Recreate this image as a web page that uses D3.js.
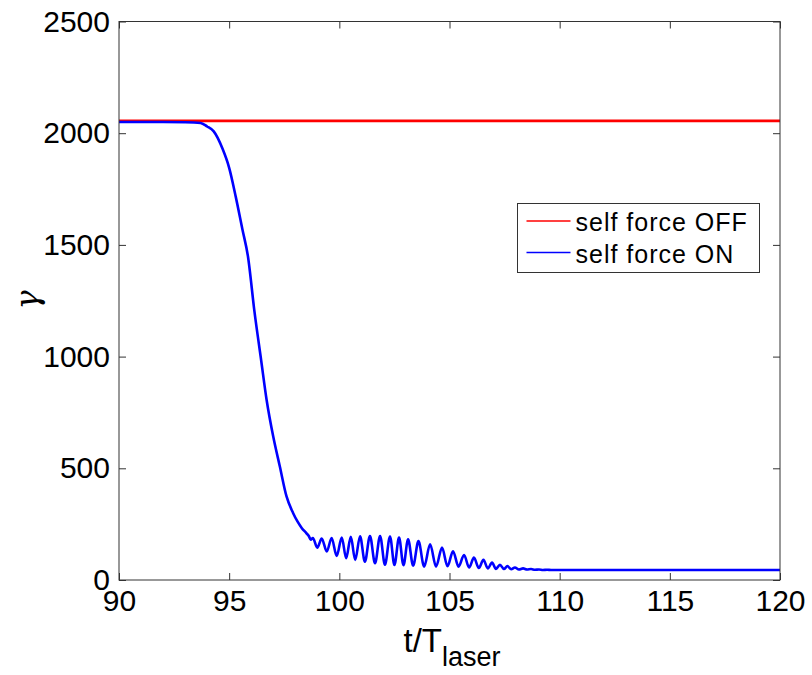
<!DOCTYPE html>
<html lang='en'>
  <head>
    <style type='text/css'>
      body {margin: 0; background-color: #fff;}
      svg text {font-family: 'Liberation Sans', Arial, sans-serif; fill: #000;}
    </style>
  </head>
  <body>
    <svg id='chart' width='812' height='675'></svg>

    <script src='https://d3js.org/d3.v7.min.js'></script>
    <script type='text/javascript'>
        // tick values
        var xTicks = [90, 95, 100, 105, 110, 115, 120];
        var yTicks = [0, 500, 1000, 1500, 2000, 2500];

        // self force OFF (red)
        var tOff     = [90, 100, 110, 120];
        var gammaOff = [2055, 2055, 2055, 2055];

        // self force ON (blue), peaks and troughs of the wiggles
        var tOn = [
          90, 92, 93, 93.7, 94.0, 94.3, 94.7, 95.0, 95.3, 95.6, 95.85, 96.15, 96.45, 96.7,
          97.0, 97.3, 97.6, 97.9, 98.1, 98.3, 98.5, 98.62, 98.7,
          98.80, 99.00, 99.20, 99.43, 99.65, 99.88, 100.11, 100.31, 100.52, 100.72,
          100.94, 101.16, 101.39, 101.62, 101.85, 102.07, 102.30, 102.50, 102.71, 102.91,
          103.12, 103.35, 103.59, 103.85, 104.12, 104.39, 104.66, 104.91, 105.16, 105.41,
          105.66, 105.89, 106.11, 106.33, 106.54, 106.74, 106.93, 107.11, 107.29, 107.47,
          107.63, 107.80, 107.97, 108.15, 108.34, 108.52, 108.70, 108.88, 109.06, 109.24,
          109.43, 109.61, 110, 115, 120
        ];
        var gammaOn = [
          2050, 2050, 2049, 2046, 2030, 2008, 1930, 1845, 1715, 1570, 1450, 1200, 985, 806,
          642, 508, 375, 300, 262, 232, 210, 196, 180,
          188, 145, 186, 128, 188, 108, 190, 98, 193, 90,
          196, 82, 197, 75, 197, 68, 195, 67, 190, 66,
          182, 64, 174, 60, 160, 60, 145, 62, 129, 60,
          112, 56, 100, 54, 90, 52, 78, 50, 68, 49,
          62, 48, 56, 47, 52, 47, 49, 46, 47, 45,
          46, 45, 45, 45, 45
        ];

        var svg = d3.select("#chart");
        var margin = {top: 21.5, right: 32, bottom: 95, left: 119};
        var width  = 812 - margin.left - margin.right;
        var height = 675 - margin.top - margin.bottom;

        var g = svg.append("g")
            .attr("transform", "translate(" + margin.left + "," + margin.top + ")");

        var x = d3.scaleLinear().domain([90, 120]).range([0, width]);
        var y = d3.scaleLinear().domain([0, 2500]).range([height, 0]);

        var line = d3.line()
            .curve(d3.curveMonotoneX)
            .x(function(d) { return x(d[0]); })
            .y(function(d) { return y(d[1]); });

        var off = tOff.map(function(t, i) { return [t, gammaOff[i]]; });
        var on  = tOn.map(function(t, i) { return [t, gammaOn[i]]; });

        g.append("path").datum(off)
            .attr("d", line)
            .attr("fill", "none")
            .attr("stroke", "#ff0000")
            .attr("stroke-width", 2.6);

        g.append("path").datum(on)
            .attr("d", line)
            .attr("fill", "none")
            .attr("stroke", "#0000ff")
            .attr("stroke-width", 2.6)
            .attr("stroke-linejoin", "round");

        // axes, ticks pointing inward on all four sides
        function styleAxis(sel) {
          sel.select(".domain").remove();
          sel.selectAll("line").attr("stroke", "#333");
          sel.selectAll("text").style("font-size", "30px").attr("fill", "#000")
             .style("font-family", "'Liberation Sans', Arial, sans-serif");
        }

        g.append("g")
            .attr("transform", "translate(0," + height + ")")
            .call(d3.axisBottom(x).tickValues(xTicks).tickSize(-7).tickPadding(10).tickFormat(d3.format("d")))
            .call(styleAxis);

        g.append("g")
            .call(d3.axisLeft(y).tickValues(yTicks).tickSize(-7).tickPadding(9).tickFormat(d3.format("d")))
            .call(styleAxis);

        g.append("g")
            .call(d3.axisTop(x).tickValues(xTicks).tickSize(-7).tickFormat(""))
            .call(styleAxis);

        g.append("g")
            .attr("transform", "translate(" + width + ",0)")
            .call(d3.axisRight(y).tickValues(yTicks).tickSize(-7).tickFormat(""))
            .call(styleAxis);

        g.append("rect")
            .attr("width", width)
            .attr("height", height)
            .attr("fill", "none")
            .attr("stroke", "#333")
            .attr("stroke-width", 1);

        // axis labels
        var xl = svg.append("text")
            .attr("x", 452)
            .attr("y", 652)
            .attr("text-anchor", "middle")
            .style("font-size", "33px");
        xl.append("tspan").text("t/T");
        xl.append("tspan").attr("dy", 14).style("font-size", "27px").text("laser");

        svg.append("text")
            .attr("transform", "translate(38,300) rotate(-90)")
            .attr("text-anchor", "middle")
            .style("font-size", "32px")
            .style("font-style", "italic")
            .style("font-family", "'DejaVu Serif', serif")
            .text("γ");

        // legend
        var legendNames  = ["self force OFF", "self force ON"];
        var legendColors = ["#ff0000", "#0000ff"];

        var lg = svg.append("g").attr("transform", "translate(517.5,203.5)");
        lg.append("rect")
            .attr("width", 242)
            .attr("height", 69)
            .attr("fill", "#fff")
            .attr("stroke", "#333")
            .attr("stroke-width", 1);

        var item = lg.selectAll(".item").data(legendNames)
          .enter().append("g")
            .attr("transform", function(d, i) { return "translate(0," + (17.5 + i * 31.5) + ")"; });

        item.append("line")
            .attr("x1", 9).attr("x2", 53)
            .attr("stroke", function(d, i) { return legendColors[i]; })
            .attr("stroke-width", 1.5);

        item.append("text")
            .attr("x", 58)
            .attr("y", 10)
            .style("font-size", "25px")
            .style("letter-spacing", "1px")
            .text(function(d) { return d; });
    </script>
  </body>
</html>
